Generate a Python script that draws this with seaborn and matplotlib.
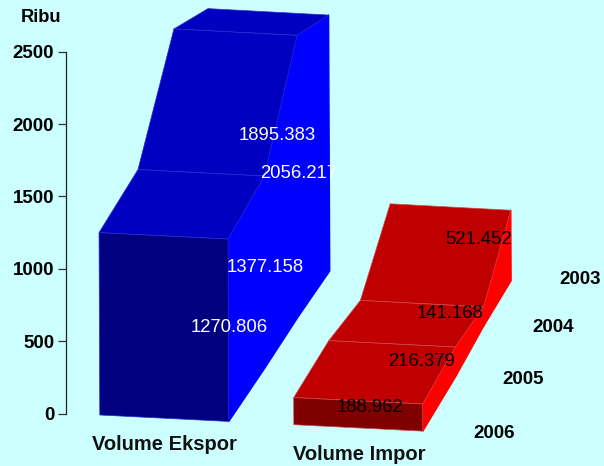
import matplotlib
matplotlib.use("Agg")
import matplotlib.pyplot as plt
import seaborn as sns

# ---------- data ----------
years = ["2003", "2004", "2005", "2006"]
series_names = ["Volume Ekspor", "Volume Impor"]
ekspor = [1895.383, 2056.217, 1377.158, 1270.806]
impor = [521.452, 141.168, 216.379, 188.962]
y_ticks = [0, 500, 1000, 1500, 2000, 2500]

# ---------- style ----------
BG = "#CCFFFF"
FAMILY = ["Liberation Sans", "DejaVu Sans"]
face_colors = [
    {"front": "#000080", "top": "#0000C0", "side": "#0000FF", "edge": "#2A2AD0"},
    {"front": "#800000", "top": "#C00000", "side": "#FF0000", "edge": "#D04A4A"},
]

# ---------- 3D projection constants (front row = depth 0) ----------
PX_PER_UNIT = 0.1448          # y axis scale, px per value unit
AXIS_ZERO_PX = 413.7
X_ORIGIN = [99.8, 138.8, 175.2, 209.1]     # screen x of the left edge, per depth
X_SCALE = [1.0, 0.98, 0.955, 0.935]        # horizontal shrink, per depth
BASE_PX = [415.0, 361.0, 310.0, 264.5]     # screen y of the floor, per depth
V_SCALE = [0.1435, 0.139, 0.1367, 0.135]   # vertical px per unit, per depth
FLOOR_SLANT = 0.05
LEAN = 0.0006
BAR_START = [0.0, 194.0]
BAR_WIDTH = 129.0


def to_value(py):
    return (AXIS_ZERO_PX - py) / PX_PER_UNIT


def project(u, depth, value):
    x = X_ORIGIN[depth] + X_SCALE[depth] * u - LEAN * value
    py = BASE_PX[depth] + FLOOR_SLANT * u - V_SCALE[depth] * value
    return x, to_value(py)


sns.set_theme(style="white", rc={"axes.facecolor": BG, "figure.facecolor": BG})
plt.rcParams["font.family"] = FAMILY

fig = plt.figure(figsize=(6.04, 4.66), dpi=100, facecolor=BG)
ax = fig.add_axes([0, 0, 1, 1], facecolor=BG)
ax.set_xlim(0, 604)
ax.set_ylim(to_value(466), to_value(0))


def face(points, color, edge, lw=0.5):
    xs, ys = zip(*points)
    ax.fill(xs, ys, facecolor=color, edgecolor=edge, linewidth=lw, joinstyle="round")


for idx, values in enumerate([ekspor, impor]):
    colors = face_colors[idx]
    left = BAR_START[idx]
    right = left + BAR_WIDTH
    by_depth = list(reversed(values))  # depth 0 is the last year

    # right side wall, back to front
    for d in range(2, -1, -1):
        face([project(right, d, 0), project(right, d + 1, 0),
              project(right, d + 1, by_depth[d + 1]), project(right, d, by_depth[d])],
             colors["side"], colors["side"], lw=1.0)
    # sloped top, back to front
    for d in range(2, -1, -1):
        face([project(left, d, by_depth[d]), project(right, d, by_depth[d]),
              project(right, d + 1, by_depth[d + 1]), project(left, d + 1, by_depth[d + 1])],
             colors["top"], colors["edge"])
    # front wall
    face([project(left, 0, 0), project(right, 0, 0),
          project(right, 0, by_depth[0]), project(left, 0, by_depth[0])],
         colors["front"], colors["edge"])

# ---------- value axis ----------
for name in ["top", "right", "bottom"]:
    ax.spines[name].set_visible(False)
ax.spines["left"].set_position(("data", 66))
ax.spines["left"].set_bounds(0, 2500)
ax.spines["left"].set_color("#222222")
ax.spines["left"].set_linewidth(0.9)
ax.set_xticks([])
ax.set_yticks(y_ticks)
ax.tick_params(axis="y", left=True, length=5.5, width=0.9, color="#333333", pad=3,
               labelsize=13.5, labelcolor="black")
for lab in ax.get_yticklabels():
    lab.set_fontweight("bold")

# ---------- value labels ----------
ekspor_label_px = [(277, 135), (298.5, 174), (265, 268), (229, 327)]
impor_label_px = [(478.5, 240), (449.5, 314), (421.5, 362), (370, 408)]
for values, spots, col in [(ekspor, ekspor_label_px, "white"), (impor, impor_label_px, "black")]:
    for v, (px, py) in zip(values, spots):
        ax.text(px, to_value(py), f"{v:.3f}", color=col, fontsize=13.3, ha="center", va="center")

# ---------- category, year and unit labels ----------
name_px = [(164.5, 445), (359, 454)]
for name, (px, py) in zip(series_names, name_px):
    ax.text(px, to_value(py), name, fontsize=14.5, fontweight="bold", color="#111111",
            ha="center", va="center")
year_px = [(580.5, 280), (553, 328), (523.5, 379), (494.5, 433)]
for yr, (px, py) in zip(years, year_px):
    ax.text(px, to_value(py), yr, fontsize=13.5, fontweight="bold", color="black",
            ha="center", va="center")
ax.text(41.5, to_value(17), "Ribu", fontsize=13.2, fontweight="bold", color="black",
        ha="center", va="center")

fig.savefig("out.png", dpi=100, facecolor=BG)
